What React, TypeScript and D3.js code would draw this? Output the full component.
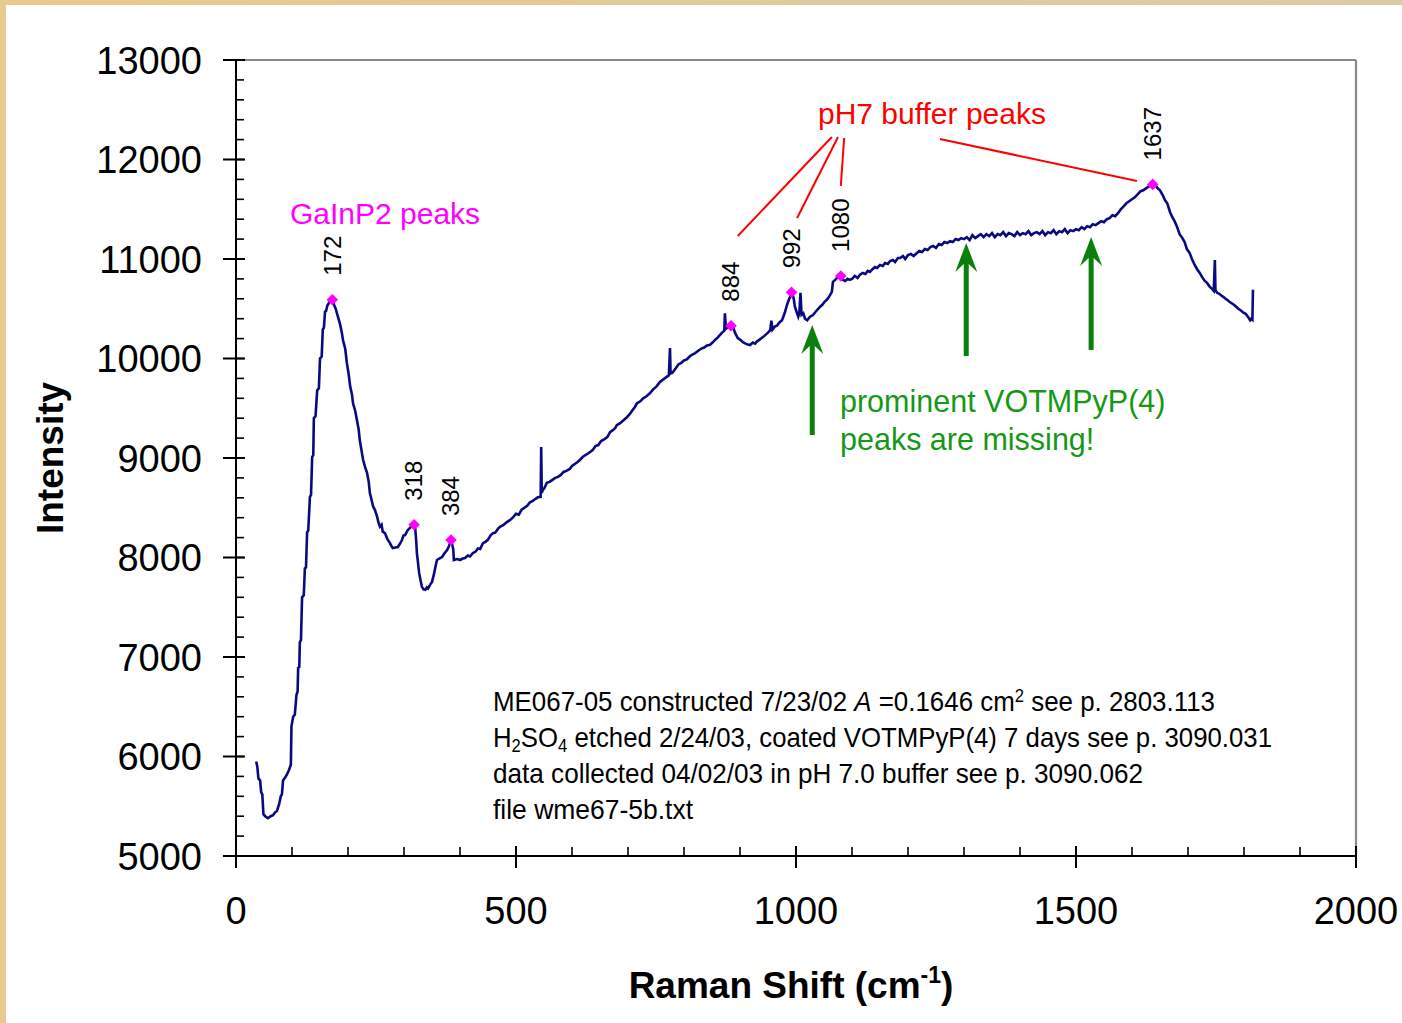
import React from "react";
import * as d3 from "d3";

// ---------- DATA ----------
const spectrum: [number, number][] = [
  [36, 5950], [38, 5900], [40, 5780], [43, 5760], [45, 5640], [47, 5620], [49, 5420], [52, 5400], [57, 5380],
  [62, 5400], [66, 5410], [70, 5440], [73, 5450], [77, 5520], [80, 5600], [82, 5620], [84, 5760], [88, 5790],
  [91, 5820], [95, 5870], [98, 5920], [99, 6300], [102, 6400], [105, 6420], [108, 6620], [110, 6650], [111, 6890],
  [113, 6900], [114, 7150], [116, 7170], [118, 7600], [121, 7620], [123, 7890], [125, 7900], [127, 8255], [129, 8270],
  [132, 8610], [134, 8630], [136, 9010], [138, 9030], [139, 9400], [142, 9420], [145, 9680], [148, 9700], [150, 10000],
  [153, 10020], [155, 10290], [157, 10310], [159, 10470], [161, 10480], [163, 10530], [166, 10560], [168, 10580],
  [172, 10590], [175, 10540], [178, 10500], [180, 10460], [183, 10400], [186, 10340], [189, 10260], [191, 10185],
  [195, 10100], [198, 9955], [201, 9850], [204, 9715], [207, 9640], [209, 9550], [213, 9470], [216, 9380], [219, 9290],
  [221, 9180], [224, 9080], [227, 8980], [231, 8900], [234, 8850], [237, 8760], [239, 8650], [242, 8580], [245, 8510],
  [248, 8480], [252, 8410], [254, 8360], [257, 8310], [260, 8330], [262, 8260], [266, 8245], [270, 8190], [273, 8160],
  [275, 8145], [278, 8110], [280, 8095], [285, 8100], [289, 8105], [293, 8140], [296, 8170], [299, 8220], [302, 8225],
  [306, 8270], [311, 8300], [316, 8330], [320, 8300], [322, 8150], [323, 8045], [325, 7950], [327, 7845], [330, 7760],
  [332, 7705], [335, 7680], [338, 7675], [341, 7700], [343, 7690], [347, 7730], [350, 7755], [353, 7820], [355, 7875],
  [357, 7930], [359, 7975], [363, 7990], [368, 8005], [372, 8040], [377, 8075], [380, 8110], [384, 8170], [386, 8130],
  [388, 8080], [389, 7975], [395, 7985], [400, 7975], [405, 7990], [409, 7995], [414, 8020], [418, 8010], [423, 8045],
  [428, 8060], [432, 8090], [436, 8085], [441, 8145], [446, 8160], [450, 8180], [455, 8225], [459, 8245], [463, 8250],
  [468, 8290], [472, 8310], [477, 8325], [481, 8345], [485, 8360], [489, 8375], [495, 8405], [500, 8440], [505, 8430],
  [510, 8480], [515, 8500], [520, 8520], [525, 8555], [530, 8570], [535, 8590], [539, 8605], [544, 8610], [545, 9110],
  [546, 8650], [548, 8680], [551, 8700], [555, 8750], [560, 8760], [565, 8780], [570, 8800], [575, 8810], [580, 8830],
  [585, 8860], [590, 8870], [596, 8890], [600, 8920], [605, 8940], [610, 8960], [614, 8980], [619, 9010], [624, 9030],
  [630, 9050], [637, 9080], [642, 9120], [647, 9130], [652, 9170], [658, 9190], [663, 9210], [668, 9260], [673, 9280],
  [677, 9300], [680, 9330], [686, 9350], [692, 9380], [698, 9410], [703, 9440], [708, 9480], [712, 9510], [716, 9550],
  [722, 9570], [727, 9600], [733, 9620], [739, 9650], [745, 9690], [751, 9720], [757, 9765], [763, 9790], [768, 9810],
  [773, 9830], [775, 10105], [776, 9850], [779, 9855], [785, 9900], [790, 9940], [795, 9955], [800, 9980], [805, 9990],
  [810, 10020], [815, 10040], [820, 10055], [826, 10080], [831, 10100], [836, 10110], [841, 10130], [846, 10135],
  [851, 10160], [856, 10190], [860, 10210], [864, 10235], [868, 10260], [872, 10280], [873, 10455], [875, 10300],
  [879, 10315], [884, 10330], [888, 10310], [891, 10260], [896, 10205], [900, 10190], [905, 10165], [910, 10150],
  [914, 10140], [918, 10135], [923, 10160], [927, 10150], [930, 10170], [935, 10190], [941, 10215], [946, 10240],
  [950, 10260], [954, 10285], [956, 10380], [958, 10290], [962, 10320], [966, 10330], [970, 10360], [975, 10385],
  [980, 10460], [984, 10540], [988, 10600], [993, 10665], [996, 10600], [998, 10520], [1001, 10470], [1004, 10420],
  [1006, 10460], [1008, 10660], [1010, 10440], [1013, 10455], [1016, 10400], [1020, 10385], [1025, 10420], [1030, 10435],
  [1035, 10470], [1040, 10500], [1043, 10520], [1047, 10540], [1051, 10570], [1055, 10590], [1059, 10620], [1064, 10670],
  [1066, 10770], [1070, 10790], [1075, 10820], [1080, 10830], [1084, 10790], [1088, 10780], [1092, 10800], [1096, 10790],
  [1100, 10800], [1105, 10830], [1110, 10810], [1114, 10840], [1119, 10860], [1124, 10850], [1128, 10880], [1132, 10870],
  [1137, 10900], [1141, 10920], [1145, 10910], [1150, 10940], [1155, 10930], [1159, 10960], [1164, 10950], [1168, 10980],
  [1173, 10990], [1177, 10970], [1182, 11010], [1186, 11010], [1191, 11030], [1195, 11000], [1200, 11040], [1205, 11050],
  [1210, 11030], [1216, 11060], [1220, 11080], [1225, 11070], [1230, 11100], [1235, 11090], [1240, 11120], [1245, 11130],
  [1250, 11110], [1255, 11150], [1260, 11140], [1265, 11170], [1270, 11160], [1275, 11180], [1280, 11170], [1285, 11200],
  [1290, 11190], [1295, 11210], [1300, 11200], [1305, 11220], [1310, 11190], [1315, 11240], [1320, 11210], [1325, 11230],
  [1330, 11250], [1335, 11220], [1340, 11250], [1345, 11230], [1350, 11260], [1355, 11220], [1360, 11250], [1365, 11240],
  [1370, 11270], [1375, 11230], [1380, 11260], [1385, 11250], [1390, 11230], [1395, 11270], [1400, 11240], [1405, 11260],
  [1410, 11250], [1415, 11280], [1420, 11240], [1425, 11260], [1430, 11270], [1435, 11250], [1440, 11280], [1445, 11240],
  [1450, 11270], [1455, 11260], [1460, 11290], [1465, 11250], [1470, 11280], [1475, 11270], [1480, 11300], [1485, 11260],
  [1490, 11290], [1495, 11280], [1500, 11300], [1505, 11290], [1510, 11320], [1515, 11300], [1520, 11330], [1525, 11320],
  [1530, 11350], [1535, 11340], [1540, 11360], [1545, 11380], [1550, 11370], [1555, 11400], [1560, 11410], [1565, 11440],
  [1570, 11430], [1575, 11460], [1580, 11500], [1585, 11530], [1590, 11560], [1595, 11580], [1600, 11600], [1605, 11620],
  [1610, 11650], [1615, 11680], [1620, 11690], [1625, 11710], [1630, 11730], [1637, 11750], [1642, 11740], [1646, 11710],
  [1650, 11690], [1655, 11640], [1659, 11590], [1663, 11560], [1668, 11470], [1672, 11420], [1676, 11380], [1680, 11330],
  [1685, 11250], [1690, 11210], [1694, 11170], [1698, 11100], [1703, 11060], [1707, 11000], [1712, 10940], [1716, 10900],
  [1721, 10860], [1725, 10820], [1730, 10780], [1734, 10760], [1739, 10720], [1743, 10700], [1746, 10680], [1748, 10990],
  [1749, 10690], [1752, 10660], [1756, 10650], [1760, 10630], [1763, 10620], [1767, 10600], [1770, 10590], [1774, 10570],
  [1778, 10555], [1782, 10540], [1786, 10520], [1790, 10500], [1795, 10480], [1799, 10460], [1803, 10450], [1807, 10420],
  [1811, 10385], [1813, 10400], [1815, 10390], [1816, 10690],
];

const peakShifts = [172, 318, 384, 884, 992, 1080, 1637];
const peakIntensities = [10590, 8330, 8175, 10330, 10665, 10830, 11750];

const xTicks = [0, 500, 1000, 1500, 2000];
const yTicks = [5000, 6000, 7000, 8000, 9000, 10000, 11000, 12000, 13000];

// green arrows: [shift, tip intensity, tail intensity]
const missingArrows: [number, number, number][] = [
  [1029, 10337, 9231],
  [1304, 11161, 10025],
  [1527, 11221, 10086],
];

// red leader lines: [shift1, intensity1, shift2, intensity2]
const bufferLeaders: [number, number, number, number][] = [
  [1064, 12226, 896, 11231],
  [1075, 12226, 1002, 11412],
  [1086, 12216, 1080, 11734],
  [1257, 12206, 1609, 11784],
];

const FONT = "'Liberation Sans', Arial, Helvetica, sans-serif";

export default function App() {
  const W = 1402, H = 1023;
  const left = 236, right = 1356, top = 60, bottom = 856;
  const x = d3.scaleLinear().domain([0, 2000]).range([left, right]);
  const y = d3.scaleLinear().domain([5000, 13000]).range([bottom, top]);

  const line = d3.line<[number, number]>().x((d) => x(d[0])).y((d) => y(d[1]));
  const xMinor = d3.range(0, 2001, 100);
  const yMinor = d3.range(5000, 13001, 200);
  const marker = d3.symbol().type(d3.symbolDiamond2).size(85)();

  const noteX = 493;
  const noteLines = [711, 747, 783, 819];

  return (
    <svg width={W} height={H} style={{ position: "absolute", left: 0, top: 0, background: "#fff" }}
      fontFamily={FONT}>
      <defs>
        <linearGradient id="topband" x1="0" x2="1" y1="0" y2="0">
          <stop offset="0" stopColor="#E8C98E" />
          <stop offset="1" stopColor="#DCCBA8" />
        </linearGradient>
      </defs>
      <rect x={0} y={0} width={W} height={H} fill="#ffffff" />
      <rect x={0} y={0} width={W} height={5} fill="url(#topband)" />
      <rect x={0} y={0} width={6} height={H} fill="#E6CA92" />

      {/* frame */}
      <line x1={left} x2={right} y1={top} y2={top} stroke="#8a8a8a" strokeWidth={2.2} />
      <line x1={right} x2={right} y1={top} y2={bottom} stroke="#8a8a8a" strokeWidth={2.2} />

      {/* y axis */}
      <line x1={left} x2={left} y1={top} y2={bottom} stroke="#000" strokeWidth={2} />
      {yMinor.map((v) => (
        <line key={"ym" + v} x1={left} x2={left + 8} y1={y(v)} y2={y(v)} stroke="#000" strokeWidth={1.6} />
      ))}
      {yTicks.map((v) => (
        <g key={"y" + v}>
          <line x1={left - 13} x2={left + 9} y1={y(v)} y2={y(v)} stroke="#000" strokeWidth={2} />
          <text x={202} y={y(v)} dy="0.36em" textAnchor="end" fontSize={38} fill="#000">{v}</text>
        </g>
      ))}

      {/* x axis */}
      <line x1={left - 13} x2={right} y1={bottom} y2={bottom} stroke="#000" strokeWidth={2} />
      {xMinor.map((v) => (
        <line key={"xm" + v} x1={x(v)} x2={x(v)} y1={bottom - 9} y2={bottom} stroke="#000" strokeWidth={1.6} />
      ))}
      {xTicks.map((v) => (
        <g key={"x" + v}>
          <line x1={x(v)} x2={x(v)} y1={bottom - 10} y2={bottom + 12} stroke="#000" strokeWidth={2} />
          <text x={x(v)} y={924} textAnchor="middle" fontSize={38} fill="#000">{v}</text>
        </g>
      ))}

      {/* axis titles */}
      <text transform="translate(63,458) rotate(-90)" textAnchor="middle" fontSize={37} fontWeight="bold" fill="#000">
        Intensity
      </text>
      <text x={791} y={998} textAnchor="middle" fontSize={37} fontWeight="bold" fill="#000">
        Raman Shift (cm<tspan fontSize={23} dy={-15}>-1</tspan><tspan dy={15}>)</tspan>
      </text>

      {/* spectrum */}
      <path d={line(spectrum) || ""} fill="none" stroke="#0a0a80" strokeWidth={2.6} strokeLinejoin="miter" />

      {/* peak markers & labels */}
      {peakShifts.map((s, i) => (
        <g key={"p" + s}>
          <path d={marker} transform={`translate(${x(s)},${y(peakIntensities[i])})`} fill="#ff00ff" />
          <text transform={`translate(${x(s)},${y(peakIntensities[i]) - 24}) rotate(-90)`} dy="0.35em"
            fontSize={24} fill="#000">{s}</text>
        </g>
      ))}

      {/* GaInP2 label */}
      <text x={290} y={224} fontSize={30} fill="#ff00ff">GaInP2 peaks</text>

      {/* pH7 buffer label and leaders */}
      <text x={818} y={124} fontSize={30} fill="#ff0000">pH7 buffer peaks</text>
      {bufferLeaders.map((l, i) => (
        <line key={"bl" + i} x1={x(l[0])} y1={y(l[1])} x2={x(l[2])} y2={y(l[3])} stroke="#ff0000" strokeWidth={2} />
      ))}

      {/* green arrows */}
      {missingArrows.map((a, i) => {
        const ax = x(a[0]);
        const ty = y(a[1]);
        const by = y(a[2]);
        return (
          <g key={"ga" + i} fill="#0a7f0a" stroke="none">
            <rect x={ax - 2.5} y={ty + 14} width={5} height={by - ty - 14} />
            <path d={`M${ax},${ty} L${ax + 11},${ty + 29} L${ax + 2.5},${ty + 21} L${ax - 2.5},${ty + 21} L${ax - 11},${ty + 29} Z`} />
          </g>
        );
      })}
      <text x={840} y={412} fontSize={30.5} fill="#159815">prominent VOTMPyP(4)</text>
      <text x={840} y={450} fontSize={30.5} fill="#159815">peaks are missing!</text>

      {/* sample notes */}
      <g fontSize={28} fill="#000">
        <text x={noteX} y={noteLines[0]} textLength={722} lengthAdjust="spacingAndGlyphs">
          ME067-05 constructed 7/23/02 <tspan fontStyle="italic">A</tspan> =0.1646 cm<tspan fontSize={18} baselineShift="9">2</tspan> see p. 2803.113
        </text>
        <text x={noteX} y={noteLines[1]} textLength={779} lengthAdjust="spacingAndGlyphs">
          H<tspan fontSize={18} baselineShift="-5">2</tspan>SO<tspan fontSize={18} baselineShift="-5">4</tspan> etched 2/24/03, coated VOTMPyP(4) 7 days see p. 3090.031
        </text>
        <text x={noteX} y={noteLines[2]} textLength={650} lengthAdjust="spacingAndGlyphs">
          data collected 04/02/03 in pH 7.0 buffer see p. 3090.062
        </text>
        <text x={noteX} y={noteLines[3]} textLength={200} lengthAdjust="spacingAndGlyphs">
          file wme67-5b.txt
        </text>
      </g>
    </svg>
  );
}
